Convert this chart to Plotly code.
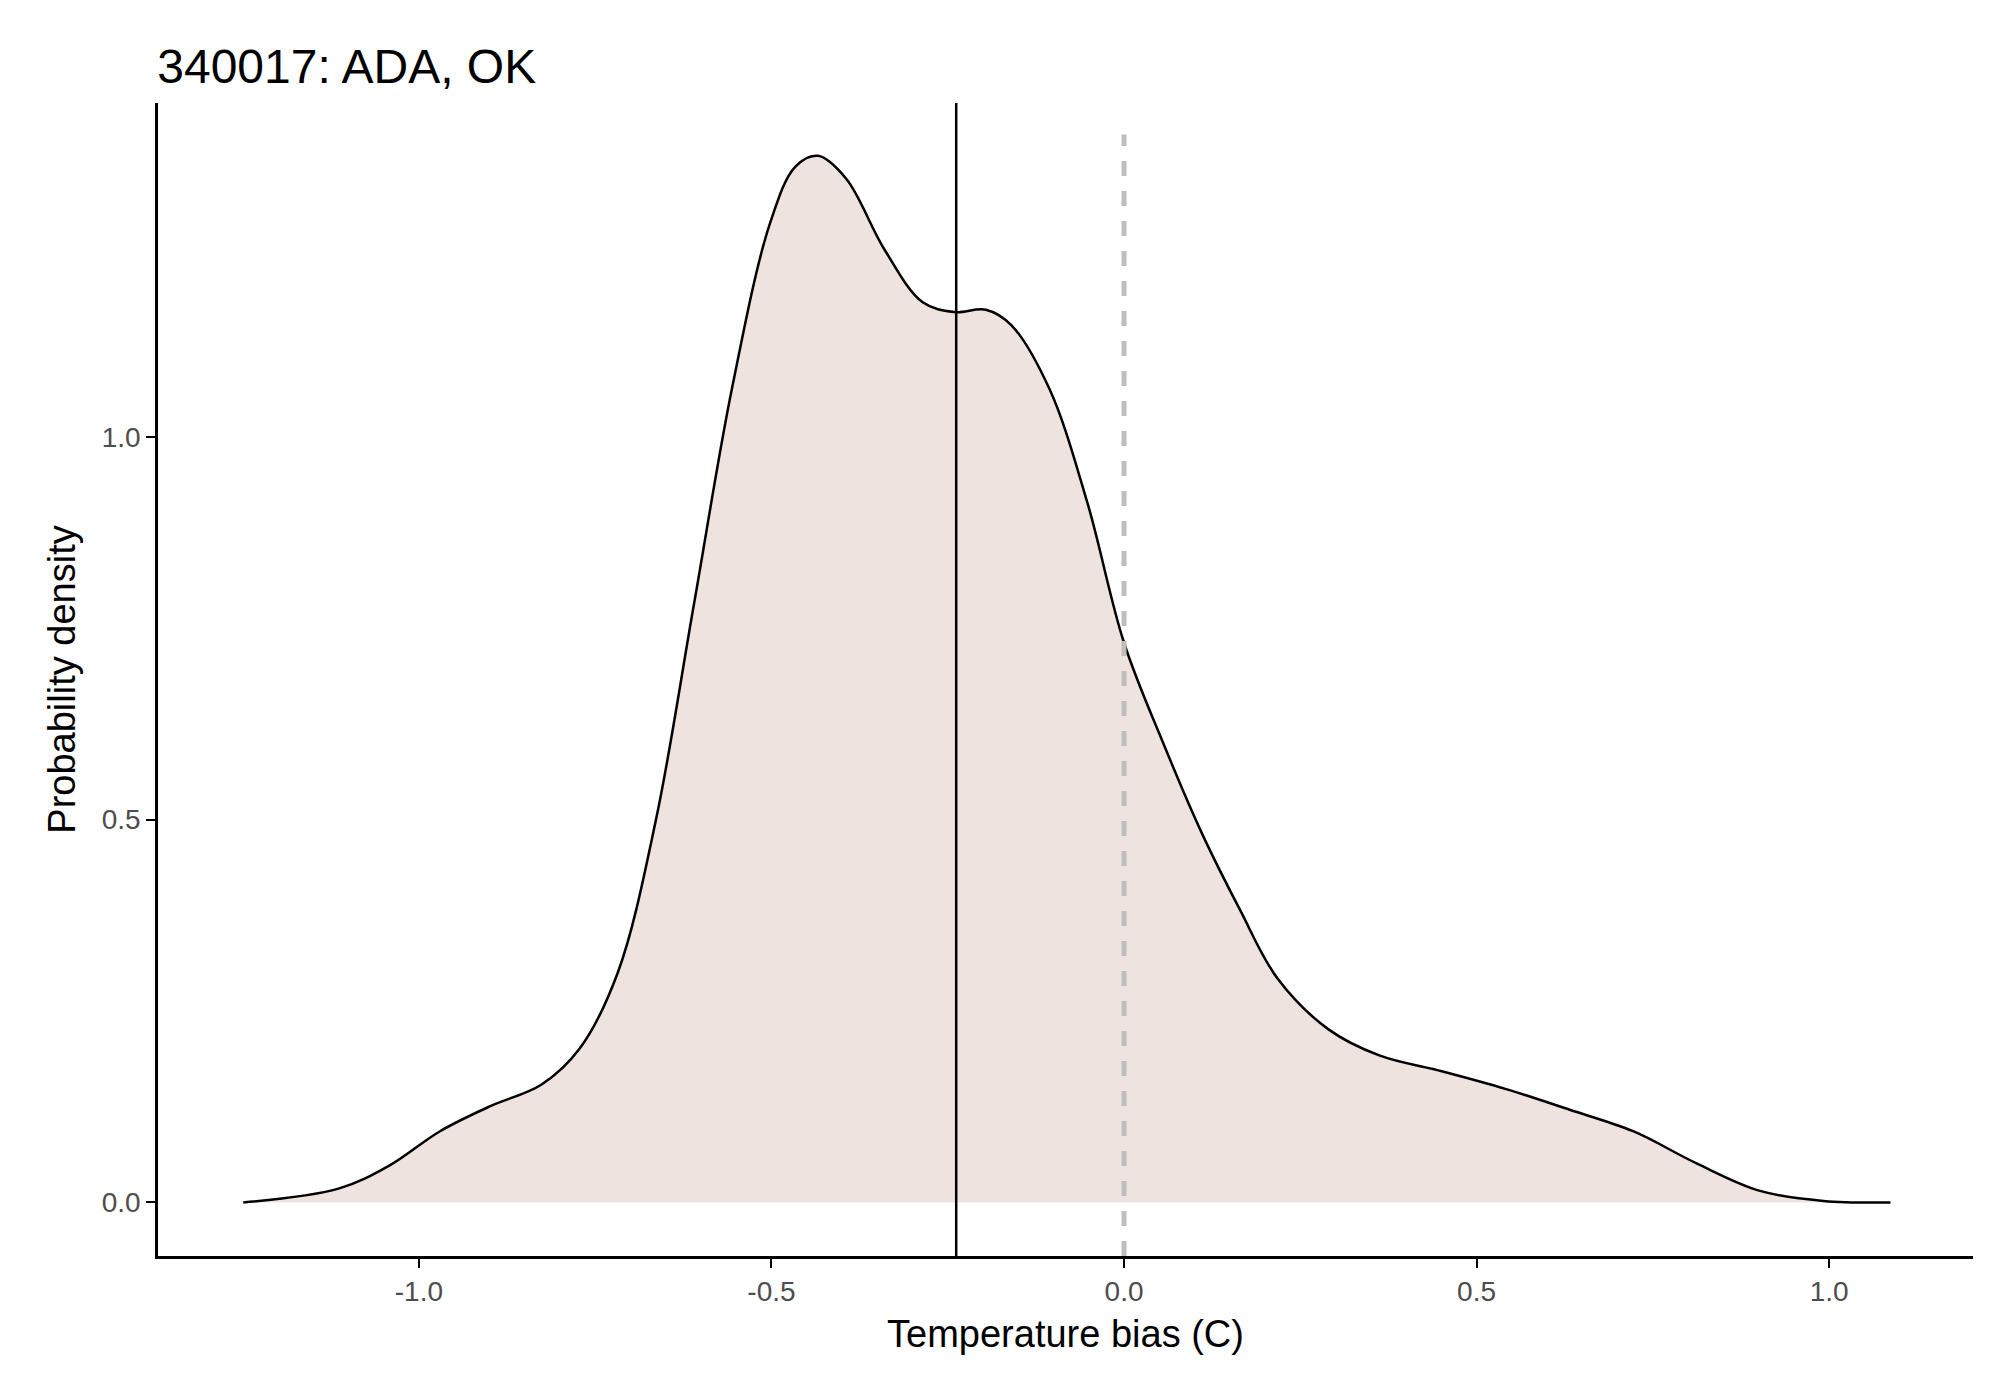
import plotly.graph_objects as go

# density curve
bias = [-1.249, -1.114, -1.042, -0.970, -0.898, -0.826, -0.772, -0.718, -0.664, -0.610,
        -0.556, -0.502, -0.466, -0.434, -0.394, -0.340, -0.286, -0.241, -0.196, -0.160,
        -0.106, -0.052, 0.0, 0.056, 0.110, 0.164, 0.218, 0.290, 0.362, 0.452,
        0.542, 0.632, 0.722, 0.812, 0.902, 0.992, 1.087]
density = [0.0, 0.018, 0.048, 0.093, 0.126, 0.154, 0.201, 0.300, 0.499, 0.781,
           1.063, 1.279, 1.353, 1.367, 1.337, 1.245, 1.176, 1.163, 1.166, 1.146,
           1.063, 0.914, 0.731, 0.599, 0.483, 0.383, 0.292, 0.226, 0.192, 0.171,
           0.148, 0.121, 0.093, 0.051, 0.015, 0.002, 0.0]
mean_bias = -0.238
x_ticks = [-1.0, -0.5, 0.0, 0.5, 1.0]
y_ticks = [0.0, 0.5, 1.0]

fig = go.Figure()
fig.add_trace(go.Scatter(x=bias, y=density, mode='lines', fill='tozeroy',
                         fillcolor='#EFE3DF', line=dict(color='black', width=2.5, shape='spline'),
                         showlegend=False))
fig.add_trace(go.Scatter(x=[0, 0], y=[-0.07, 1.395], mode='lines',
                         line=dict(color='#BEBEBE', width=5, dash='dash'), showlegend=False))
fig.add_trace(go.Scatter(x=[mean_bias, mean_bias], y=[-0.07, 1.436], mode='lines',
                         line=dict(color='black', width=2.5), showlegend=False))

axis_font = dict(family='Liberation Sans, Arial', size=28, color='#4D4D4D')
fig.update_layout(
    width=1990, height=1384,
    plot_bgcolor='white', paper_bgcolor='white',
    margin=dict(l=150, r=25, t=95, b=136),
    title=dict(text='340017: ADA, OK', x=0.075, xanchor='left', y=0.97, yanchor='top',
               font=dict(family='Liberation Sans, Arial', size=48, color='black')),
    xaxis=dict(range=[-1.37, 1.204], tickvals=x_ticks, ticktext=[f'{v:.1f}' for v in x_ticks],
               showgrid=False, zeroline=False, showline=True, linecolor='black', linewidth=2.5,
               ticks='outside', ticklen=9, tickwidth=2, tickcolor='black', tickfont=axis_font,
               title=dict(text='Temperature bias (C)', font=dict(family='Liberation Sans, Arial', size=38, color='black'))),
    yaxis=dict(range=[-0.07, 1.436], tickvals=y_ticks, ticktext=[f'{v:.1f}' for v in y_ticks],
               showgrid=False, zeroline=False, showline=True, linecolor='black', linewidth=2.5,
               ticks='outside', ticklen=9, tickwidth=2, tickcolor='black', tickfont=axis_font,
               title=dict(text='Probability density', font=dict(family='Liberation Sans, Arial', size=38, color='black'))),
)
fig.write_html("out.html")
